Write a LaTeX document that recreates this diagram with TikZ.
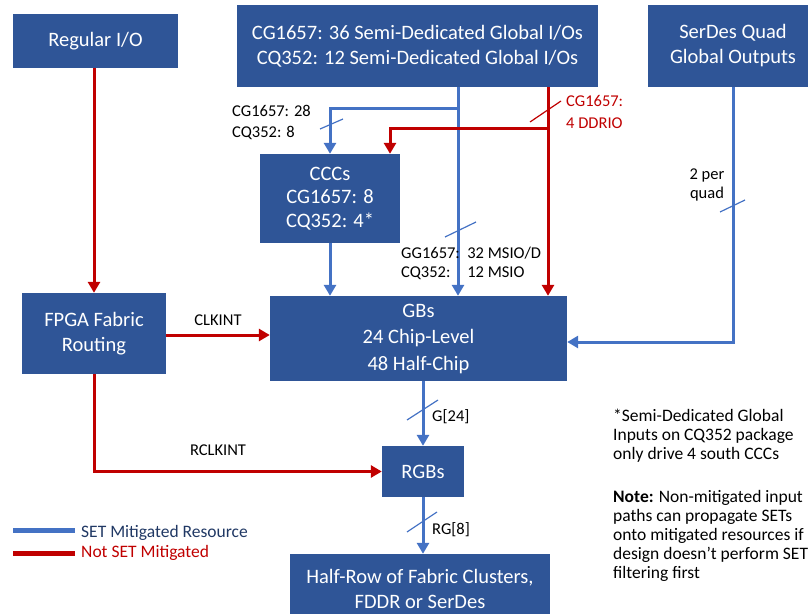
\documentclass[tikz,border=0pt]{standalone}
\usepackage{fontspec}
\setmainfont{Carlito}
\usetikzlibrary{arrows.meta}

\definecolor{boxblue}{HTML}{2F5597}
\definecolor{lineblue}{HTML}{4472C4}
\definecolor{linered}{HTML}{C00000}
\definecolor{legendblue}{HTML}{203864}

\begin{document}
\begin{tikzpicture}[
    x=1pt, y=-1pt,
    block/.style={rectangle, fill=boxblue, text=white, align=center, inner sep=0pt, font=\fontsize{20.5}{25}\selectfont},
    mitig/.style={draw=lineblue, line width=3pt, -{Triangle[length=11pt, width=12pt]}},
    nomitig/.style={draw=linered, line width=3pt, -{Triangle[length=11pt, width=12pt]}},
    slash/.style={draw=lineblue, line width=1.2pt},
    label/.style={inner sep=0pt, align=left, font=\fontsize{16.5}{21}\selectfont},
    note/.style={inner sep=0pt, align=left, font=\fontsize{17.5}{19}\selectfont},
]
\useasboundingbox (0,0) rectangle (808,613);
\clip (0,0) rectangle (808,613);

% Source blocks (top row)
\node[block, minimum width=165pt, minimum height=54pt] (regio) at (95.5, 41) {Regular I/O};
\node[block, minimum width=361pt, minimum height=82pt] (sdgio) at (417.5, 46) {CG1657: 36 Semi-Dedicated Global I/Os\\CQ352: 12 Semi-Dedicated Global I/Os};
\node[block, minimum width=170pt, minimum height=82pt] (serdes) at (733, 46) {SerDes Quad\\Global Outputs};

% Middle blocks
\node[block, minimum width=140pt, minimum height=89pt, font=\fontsize{20.5}{23.5}\selectfont] (cccs) at (330, 198.5) {CCCs\\CG1657: 8\\CQ352: 4*};
\node[block, minimum width=144pt, minimum height=81pt] (fpga) at (94, 333.5) {FPGA Fabric\\Routing};
\node[block, minimum width=297pt, minimum height=85pt, font=\fontsize{20.5}{26.5}\selectfont] (gbs) at (418.5, 338.5) {GBs\\24 Chip-Level\\48 Half-Chip};

% Lower blocks
\node[block, minimum width=82pt, minimum height=51pt] (rgbs) at (423, 471.5) {RGBs};
\node[block, minimum width=260pt, minimum height=70pt] (halfrow) at (420, 589) {Half-Row of Fabric Clusters,\\FDDR or SerDes};

% Branch points
\coordinate (bsplit) at (458, 108);
\coordinate (rsplit) at (548, 128);

% Mitigated paths (blue)
\draw[mitig] (sdgio.south -| bsplit) -- (gbs.north -| bsplit);
\draw[mitig] (bsplit) -| (cccs.north);
\draw[mitig] (cccs.south) -- (cccs.south |- gbs.north);
\draw[mitig] (serdes.south) |- ([yshift=-3.5pt]gbs.east);
\draw[mitig] (rgbs.north |- gbs.south) -- (rgbs.north);
\draw[mitig] (rgbs.south) -- (rgbs.south |- halfrow.north);

% Non-mitigated paths (red)
\draw[nomitig] (sdgio.south -| rsplit) -- (gbs.north -| rsplit);
\draw[nomitig] (rsplit) -| ([xshift=60pt]cccs.north);
\draw[nomitig] (fpga.north |- regio.south) -- (fpga.north);
\draw[nomitig] ([yshift=-1.5pt]fpga.east) -- ([yshift=-1.5pt]fpga.east -| gbs.west);
\draw[nomitig] (fpga.south) |- (rgbs.west);

% Bus width slashes
\draw[slash] (320, 129) -- (343, 119);
\draw[slash, linered] (530, 122) -- (561, 101);
\draw[slash] (445, 237) -- (476, 222);
\draw[slash] (720, 212) -- (745, 200);
\draw[slash] (407, 420) -- (438, 400);
\draw[slash] (407, 532) -- (437, 512);

% Connector labels
\node[label, anchor=west] (lccc) at (232, 122.5) {CG1657: 28\\CQ352: 8};
\node[label, anchor=west, text=linered, font=\fontsize{16.5}{22}\selectfont] (lddr) at (566, 112) {CG1657:\\4 DDRIO};
\node[label, anchor=west] (lmsio) at (401, 263.5) {\begin{tabular}{@{}l@{\ \ }l@{}}GG1657: & 32 MSIO/D\\[-2pt] CQ352: & 12 MSIO\end{tabular}};
\node[label, align=center, font=\fontsize{16.5}{19}\selectfont] (lquad) at (707, 184.5) {2 per\\quad};
\node[label] (lclk) at (218, 320) {CLKINT};
\node[label] (lrclk) at (218, 450) {RCLKINT};
\node[label, anchor=west] (lg) at (432, 417) {G[24]};
\node[label, anchor=west] (lrg) at (432, 530) {RG[8]};

% Legend
\draw[lineblue, line width=5pt] (13, 530) -- (75, 530);
\draw[linered, line width=5pt] (13, 553) -- (75, 553);
\node[note, anchor=west, text=legendblue] (lset) at (81, 533) {SET Mitigated Resource};
\node[note, anchor=west, text=linered] (lnot) at (81, 553) {Not SET Mitigated};

% Notes
\node[note, anchor=north west] (notes) at (613, 409) {*Semi-Dedicated Global\\Inputs on CQ352 package\\only drive 4 south CCCs\\[24pt]\textbf{Note:} Non-mitigated input\\paths can propagate SETs\\onto mitigated resources if\\design doesn't perform SET\\filtering first};

\end{tikzpicture}
\end{document}
